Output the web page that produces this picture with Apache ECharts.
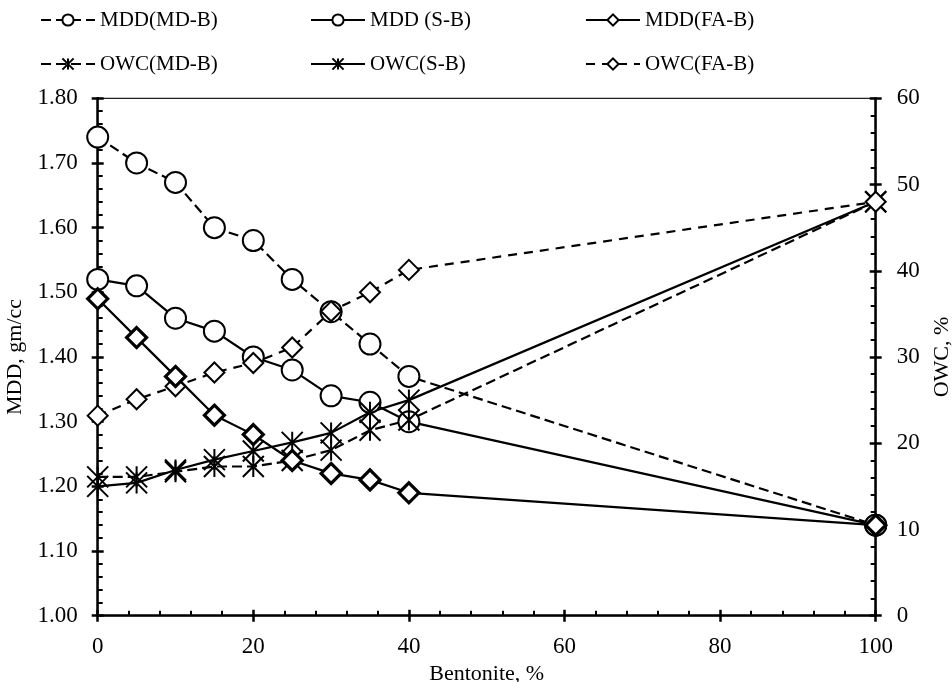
<!DOCTYPE html>
<html>
<head>
<meta charset="utf-8">
<script src="https://cdn.jsdelivr.net/npm/echarts@6/dist/echarts.min.js"></script>
<style>
  html, body { margin: 0; padding: 0; background: #fff; }
  #chart { width: 952px; height: 682px; }
</style>
</head>
<body>
<div id="chart"></div>
<script>
// Bentonite content (%) of each mix
const bentonite = [0, 5, 10, 15, 20, 25, 30, 35, 40, 100];

// Maximum dry density, gm/cc
const mddMD = [1.74, 1.70, 1.67, 1.60, 1.58, 1.52, 1.47, 1.42, 1.37, 1.14];
const mddS  = [1.52, 1.51, 1.46, 1.44, 1.40, 1.38, 1.34, 1.33, 1.30, 1.14];
const mddFA = [1.49, 1.43, 1.37, 1.31, 1.28, 1.24, 1.22, 1.21, 1.19, 1.14];

// Optimum water content, %
const owcMD = [16.1, 16.1, 16.7, 17.3, 17.3, 18.0, 19.2, 21.5, 22.7, 48.0];
const owcS  = [15.0, 15.4, 16.9, 18.1, 19.1, 20.1, 21.2, 23.6, 25.0, 48.0];
const owcFA = [23.2, 25.1, 26.6, 28.2, 29.3, 31.1, 35.3, 37.5, 40.1, 48.0];

const seriesNames = ['MDD(MD-B)', 'MDD (S-B)', 'MDD(FA-B)', 'OWC(MD-B)', 'OWC(S-B)', 'OWC(FA-B)'];

const FONT = 'Liberation Serif, Times New Roman, serif';
const INK = '#000';
const STAR = 'path://M0,0L20,20M20,0L0,20M10,0L10,20';

function pairs(ys) {
  return bentonite.map((x, i) => [x, ys[i]]);
}

function makeSeries(name, ys, axis, opts) {
  return {
    name: name,
    type: 'line',
    yAxisIndex: axis,
    data: pairs(ys),
    symbol: opts.symbol,
    symbolSize: opts.size,
    showAllSymbol: true,
    z: opts.z || 2,
    lineStyle: { color: INK, width: 2.2, type: opts.dash },
    itemStyle: { color: '#fff', borderColor: INK, borderWidth: opts.border },
    emphasis: { disabled: true },
    animation: false
  };
}

const chart = echarts.init(document.getElementById('chart'), null, { renderer: 'canvas' });

const legendBase = {
  orient: 'vertical',
  top: 3,
  itemGap: 20,
  itemHeight: 14,
  itemWidth: 54,
  selectedMode: false,
  textStyle: { fontFamily: FONT, fontSize: 21, color: INK, lineHeight: 24, padding: [0, 0, 0, 0] }
};

const mainTick = { show: true, inside: true, length: 6, lineStyle: { color: INK, width: 2.5 } };
const outerTick = { show: true, inside: false, length: 6, lineStyle: { color: INK, width: 2.5 } };
const minor = { show: true, splitNumber: 5, length: 5, lineStyle: { color: INK, width: 2 } };
const axisLineStyle = { show: true, onZero: false, lineStyle: { color: INK, width: 2.5 } };
const labelStyle = { fontFamily: FONT, fontSize: 23, color: INK };

chart.setOption({
  backgroundColor: '#fff',
  textStyle: { fontFamily: FONT },
  legend: [
    Object.assign({}, legendBase, { left: 35, data: [seriesNames[0], seriesNames[3]] }),
    Object.assign({}, legendBase, { left: 305, data: [seriesNames[1], seriesNames[4]] }),
    Object.assign({}, legendBase, { left: 580, data: [seriesNames[2], seriesNames[5]] })
  ],
  grid: {
    left: 97.7, right: 76.3, top: 98.3, bottom: 66.3,
    outerBoundsMode: 'none',
    containLabel: false,
    show: true, borderColor: '#222', borderWidth: 1.2, backgroundColor: 'transparent'
  },
  xAxis: [
    {
      type: 'value', min: 0, max: 100, interval: 20, position: 'bottom',
      name: 'Bentonite, %', nameLocation: 'middle', nameGap: 46,
      nameTextStyle: Object.assign({}, labelStyle, { fontSize: 22 }),
      axisLine: axisLineStyle,
      axisTick: mainTick,
      minorTick: minor,
      axisLabel: Object.assign({ margin: 20 }, labelStyle),
      splitLine: { show: false }
    },
    {
      type: 'value', min: 0, max: 100, interval: 20, position: 'bottom',
      axisLine: { show: false, onZero: false },
      axisTick: outerTick,
      axisLabel: { show: false },
      splitLine: { show: false }
    }
  ],
  yAxis: [
    {
      type: 'value', min: 1.0, max: 1.8, interval: 0.1, position: 'left',
      name: 'MDD, gm/cc', nameLocation: 'middle', nameGap: 63, nameRotate: 90,
      nameTextStyle: Object.assign({}, labelStyle, { fontSize: 22 }),
      axisLine: axisLineStyle,
      axisTick: mainTick,
      minorTick: minor,
      axisLabel: Object.assign({ margin: 20, formatter: v => v.toFixed(2) }, labelStyle),
      splitLine: { show: false }
    },
    {
      type: 'value', min: 0, max: 60, interval: 10, position: 'right',
      name: 'OWC, %', nameLocation: 'middle', nameGap: 56, nameRotate: 90,
      nameTextStyle: Object.assign({}, labelStyle, { fontSize: 22 }),
      axisLine: axisLineStyle,
      axisTick: mainTick,
      minorTick: minor,
      axisLabel: Object.assign({ margin: 21 }, labelStyle),
      splitLine: { show: false }
    },
    {
      type: 'value', min: 1.0, max: 1.8, interval: 0.1, position: 'left',
      axisLine: { show: false, onZero: false },
      axisTick: outerTick,
      axisLabel: { show: false },
      splitLine: { show: false }
    },
    {
      type: 'value', min: 0, max: 60, interval: 10, position: 'right',
      axisLine: { show: false, onZero: false },
      axisTick: outerTick,
      axisLabel: { show: false },
      splitLine: { show: false }
    }
  ],
  series: [
    makeSeries(seriesNames[0], mddMD, 0, { symbol: 'circle', size: 21, border: 2, dash: [10, 5] }),
    makeSeries(seriesNames[1], mddS, 0, { symbol: 'circle', size: 21, border: 2, dash: 'solid' }),
    makeSeries(seriesNames[2], mddFA, 0, { symbol: 'diamond', size: 20, border: 3.2, dash: 'solid', z: 4 }),
    makeSeries(seriesNames[3], owcMD, 1, { symbol: STAR, size: 21, border: 2, dash: [10, 5] }),
    makeSeries(seriesNames[4], owcS, 1, { symbol: STAR, size: 21, border: 2, dash: 'solid' }),
    makeSeries(seriesNames[5], owcFA, 1, { symbol: 'diamond', size: 20, border: 2, dash: [9, 7], z: 3 })
  ]
});
</script>
</body>
</html>
